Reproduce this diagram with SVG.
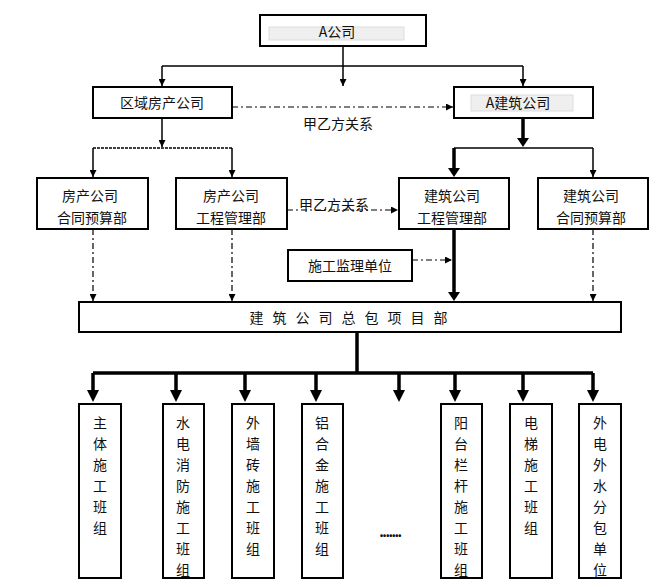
<svg xmlns="http://www.w3.org/2000/svg" width="668" height="587" viewBox="0 0 668 587">
<defs>
<marker id="a" viewBox="0 0 10 10" refX="10" refY="5" markerWidth="7" markerHeight="7" markerUnits="userSpaceOnUse" orient="auto"><path d="M0,0L10,5L0,10z" fill="#000"/></marker>
<style>
rect.n{fill:#fff;stroke:#000;stroke-width:2}
rect.s{fill:#efefef;stroke:#ddd;stroke-width:1}
text{font-family:"Noto Sans CJK SC","Liberation Sans",sans-serif;font-size:14px;fill:#111;text-anchor:middle}
.v{font-size:14px}
.t{stroke:#000;stroke-width:1.5;fill:none}
.k{stroke:#000;stroke-width:3.5;fill:none}
.d{stroke:#000;stroke-width:1.2;fill:none;stroke-dasharray:6 3 2 3}
</style>
</defs>
<rect width="668" height="587" fill="#fff"/>
<g id="connectors">
<path class="t" d="M343,46V86" marker-end="url(#a)"/>
<path class="t" d="M162,66H523"/>
<path class="t" d="M162,66V86" marker-end="url(#a)"/>
<path class="t" d="M523,66V86" marker-end="url(#a)"/>
<path class="d" d="M232,107H453" marker-end="url(#a)"/>
<path class="t" d="M162,118V147" marker-end="url(#a)"/>
<path class="t" d="M93,148H232" stroke-dasharray="3 1"/>
<path class="t" d="M93,148V177" marker-end="url(#a)"/>
<path class="t" d="M232,148V177" marker-end="url(#a)"/>
<path class="k" d="M523,118V140"/><path d="M517,138L523,147L529,138z"/>
<path class="t" d="M454,148H593" stroke-width="2"/>
<path class="k" d="M454,148V170"/><path d="M448,168L454,177L460,168z"/>
<path class="t" d="M593,148V177" marker-end="url(#a)"/>
<path class="d" d="M287,210H398" marker-end="url(#a)"/>
<path class="d" d="M93,229V301" marker-end="url(#a)"/>
<path class="d" d="M232,229V301" marker-end="url(#a)"/>
<path class="d" d="M593,229V301" marker-end="url(#a)"/>
<path class="k" d="M454,229V293"/><path d="M448,292L454,301L460,292z"/>
<path class="d" d="M412,260H452" marker-end="url(#a)"/>
<path class="k" d="M357,332V373"/>
<path class="k" d="M93,373H593" stroke-width="3"/>
<g>
<path class="k" d="M93,373V392"/><path d="M87,390L93,402L99,390z"/>
<path class="k" d="M176,373V392"/><path d="M170,390L176,402L182,390z"/>
<path class="k" d="M245,373V392"/><path d="M239,390L245,402L251,390z"/>
<path class="k" d="M316,373V392"/><path d="M310,390L316,402L322,390z"/>
<path class="k" d="M399,373V392"/><path d="M393,390L399,402L405,390z"/>
<path class="k" d="M455,373V392"/><path d="M449,390L455,402L461,390z"/>
<path class="k" d="M523,373V392"/><path d="M517,390L523,402L529,390z"/>
<path class="k" d="M593,373V392"/><path d="M587,390L593,402L599,390z"/>
</g>
</g>
<g id="nA"><rect class="n" x="260" y="15" width="166" height="31"/><rect class="s" x="269" y="27" width="135" height="13"/><text x="337" y="37">A公司</text></g>
<g id="nQ"><rect class="n" x="93" y="87" width="139" height="31"/><text x="162" y="108">区域房产公司</text></g>
<g id="nJ"><rect class="n" x="454" y="87" width="139" height="31"/><rect class="s" x="471" y="95" width="102" height="16"/><text x="518" y="108">A建筑公司</text></g>
<text x="338" y="129">甲乙方关系</text>
<g id="n1"><rect class="n" x="37" y="178" width="111" height="51"/><text x="90" y="201">房产公司</text><text x="92" y="223">合同预算部</text></g>
<g id="n2"><rect class="n" x="176" y="178" width="111" height="51"/><text x="231" y="201">房产公司</text><text x="231" y="223">工程管理部</text></g>
<text x="334" y="210" font-size="13">甲乙方关系</text>
<g id="n3"><rect class="n" x="399" y="178" width="110" height="51"/><text x="452" y="201">建筑公司</text><text x="452" y="223">工程管理部</text></g>
<g id="n4"><rect class="n" x="538" y="178" width="110" height="51"/><text x="591" y="201">建筑公司</text><text x="591" y="223">合同预算部</text></g>
<g id="n5"><rect class="n" x="288" y="250" width="124" height="31"/><text x="350" y="271">施工监理单位</text></g>
<g id="n6"><rect class="n" x="79" y="302" width="542" height="30"/><text x="353" y="323" letter-spacing="9">建筑公司总包项目部</text></g>
<g id="b1"><rect class="n" x="79" y="404" width="42" height="174"/><text class="v" x="100" y="428">主</text><text class="v" x="100" y="449">体</text><text class="v" x="100" y="470">施</text><text class="v" x="100" y="491">工</text><text class="v" x="100" y="512">班</text><text class="v" x="100" y="533">组</text></g>
<g id="b2"><rect class="n" x="163" y="404" width="41" height="174"/><text class="v" x="183" y="428">水</text><text class="v" x="183" y="449">电</text><text class="v" x="183" y="470">消</text><text class="v" x="183" y="491">防</text><text class="v" x="183" y="512">施</text><text class="v" x="183" y="533">工</text><text class="v" x="183" y="554">班</text><text class="v" x="183" y="575">组</text></g>
<g id="b3"><rect class="n" x="232" y="404" width="42" height="174"/><text class="v" x="253" y="428">外</text><text class="v" x="253" y="449">墙</text><text class="v" x="253" y="470">砖</text><text class="v" x="253" y="491">施</text><text class="v" x="253" y="512">工</text><text class="v" x="253" y="533">班</text><text class="v" x="253" y="554">组</text></g>
<g id="b4"><rect class="n" x="302" y="404" width="41" height="174"/><text class="v" x="322" y="428">铝</text><text class="v" x="322" y="449">合</text><text class="v" x="322" y="470">金</text><text class="v" x="322" y="491">施</text><text class="v" x="322" y="512">工</text><text class="v" x="322" y="533">班</text><text class="v" x="322" y="554">组</text></g>
<text x="390" y="537" font-size="22" font-weight="bold" letter-spacing="-1.5">.......</text>
<g id="b5"><rect class="n" x="441" y="404" width="41" height="174"/><text class="v" x="461" y="428">阳</text><text class="v" x="461" y="449">台</text><text class="v" x="461" y="470">栏</text><text class="v" x="461" y="491">杆</text><text class="v" x="461" y="512">施</text><text class="v" x="461" y="533">工</text><text class="v" x="461" y="554">班</text><text class="v" x="461" y="575">组</text></g>
<g id="b6"><rect class="n" x="510" y="404" width="42" height="174"/><text class="v" x="531" y="428">电</text><text class="v" x="531" y="449">梯</text><text class="v" x="531" y="470">施</text><text class="v" x="531" y="491">工</text><text class="v" x="531" y="512">班</text><text class="v" x="531" y="533">组</text></g>
<g id="b7"><rect class="n" x="579" y="404" width="42" height="174"/><text class="v" x="600" y="428">外</text><text class="v" x="600" y="449">电</text><text class="v" x="600" y="470">外</text><text class="v" x="600" y="491">水</text><text class="v" x="600" y="512">分</text><text class="v" x="600" y="533">包</text><text class="v" x="600" y="554">单</text><text class="v" x="600" y="575">位</text></g>
</svg>
